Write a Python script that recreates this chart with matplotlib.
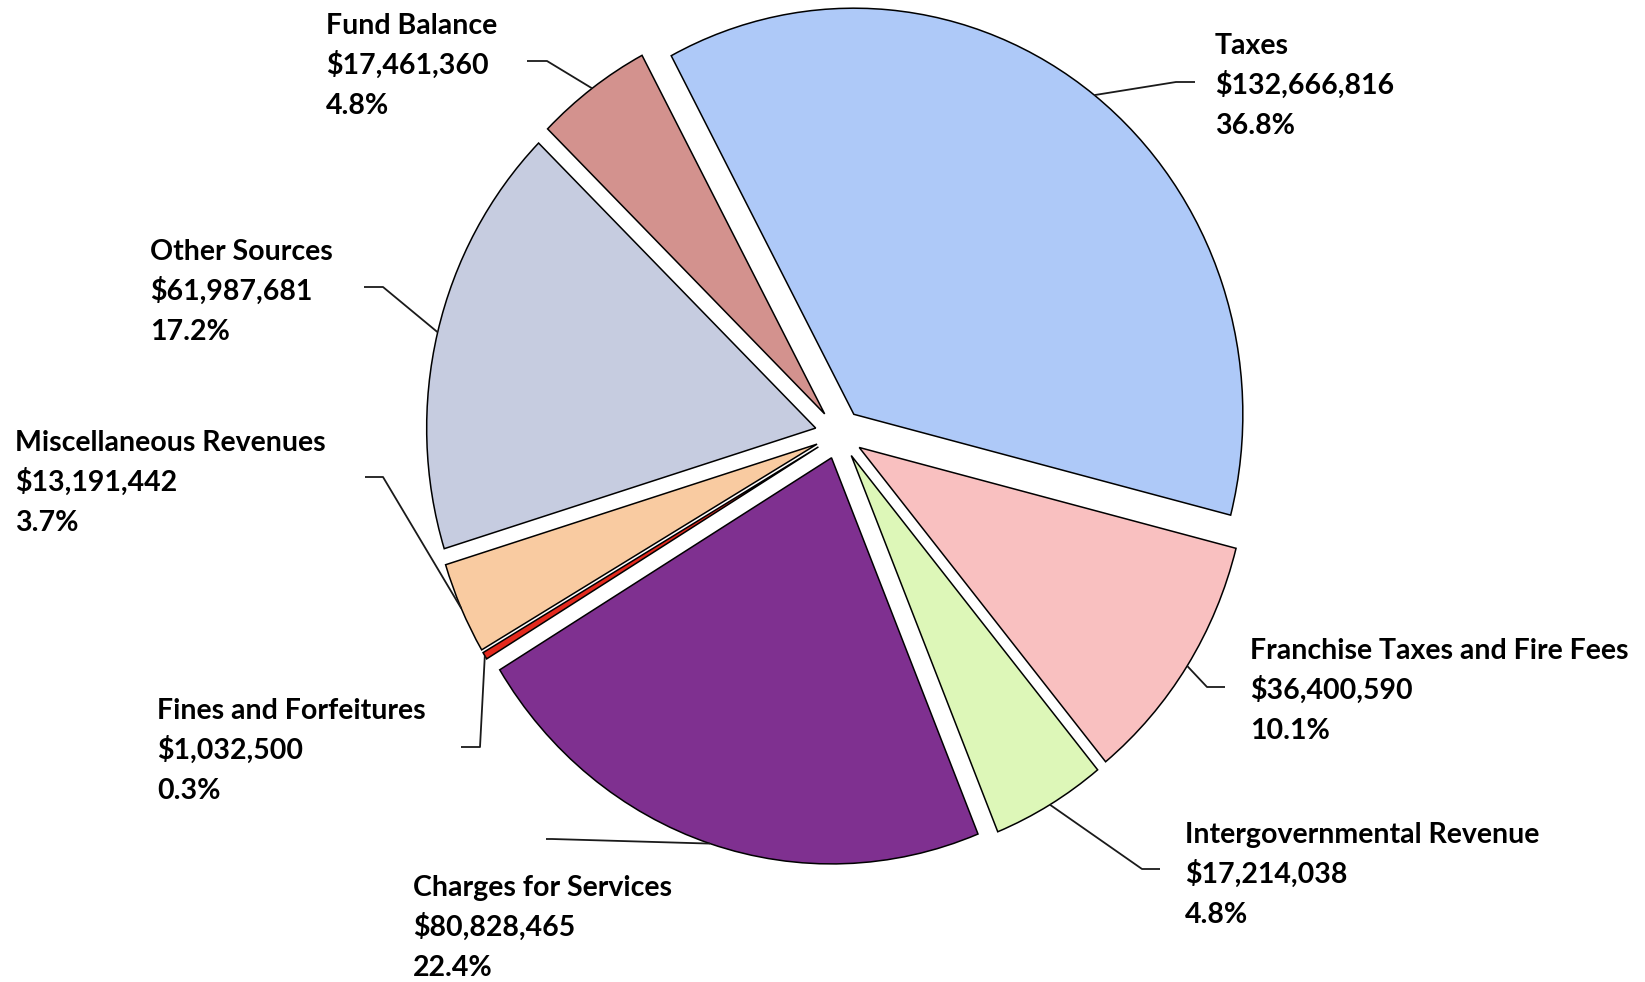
import math

import matplotlib
matplotlib.use("Agg")
import matplotlib.pyplot as plt

# revenue sources, clockwise from the top
names = ["Taxes", "Franchise Taxes and Fire Fees", "Intergovernmental Revenue",
         "Charges for Services", "Fines and Forfeitures", "Miscellaneous Revenues",
         "Other Sources", "Fund Balance"]
amounts = [132666816, 36400590, 17214038, 80828465, 1032500, 13191442,
           61987681, 17461360]
colors = ["#aec9f8", "#f9c0c0", "#ddf7b8", "#7f3090", "#e42a1e", "#f9cba1",
          "#c6cce0", "#d3928e"]

W, H = 1645, 982
SY = 1.044  # the source picture is a little stretched vertically


def Y(y_img):
    return (H - y_img) / SY


# label layout in picture pixels: (text left, cap top), (elbow), (line end)
label_pos = [(1215, 33), (1250, 638), (1185, 822), (413, 875),
             (157, 698), (15, 430), (150, 239), (326, 13)]
elbows = [((1176, 82), (1195, 82)), ((1207, 687), (1225, 687)),
          ((1142, 869), (1160, 869)), ((552, 839), (546, 839)),
          ((480, 747), (461, 747)), ((383, 477), (365, 477)),
          ((383, 287), (364, 287)), ((547, 61), (527, 61))]

fig = plt.figure(figsize=(W / 100, H / 100), dpi=100)
ax = fig.add_axes([0, 0, 1, 1])

total = sum(amounts)
wedges, _ = ax.pie(amounts, colors=colors, startangle=118, counterclock=False,
                   radius=389, center=(839, Y(434)), explode=[24] * len(amounts),
                   frame=True,
                   wedgeprops=dict(edgecolor="black", linewidth=1.1))

ax.set_aspect("auto")
ax.set_xlim(0, W)
ax.set_ylim(0, H / SY)
ax.axis("off")

for w, name, amt, (tx, ty), (elb, end) in zip(wedges, names, amounts, label_pos, elbows):
    mid = math.radians((w.theta1 + w.theta2) / 2)
    ax_ = w.center[0] + w.r * math.cos(mid)
    ay_ = w.center[1] + w.r * math.sin(mid)
    ax.plot([ax_, elb[0], end[0]], [ay_, Y(elb[1]), Y(end[1])],
            color="#1a1a1a", linewidth=1.3, solid_capstyle="butt")
    lines = [name, f"${amt:,}", f"{100 * amt / total:.1f}%"]
    for i, s in enumerate(lines):
        ax.text(tx, Y(ty + 21 + 40 * i), s, fontsize=20.5, fontweight="bold",
                family=["Lato", "DejaVu Sans"], ha="left", va="baseline")

fig.savefig("out.png", dpi=100)
